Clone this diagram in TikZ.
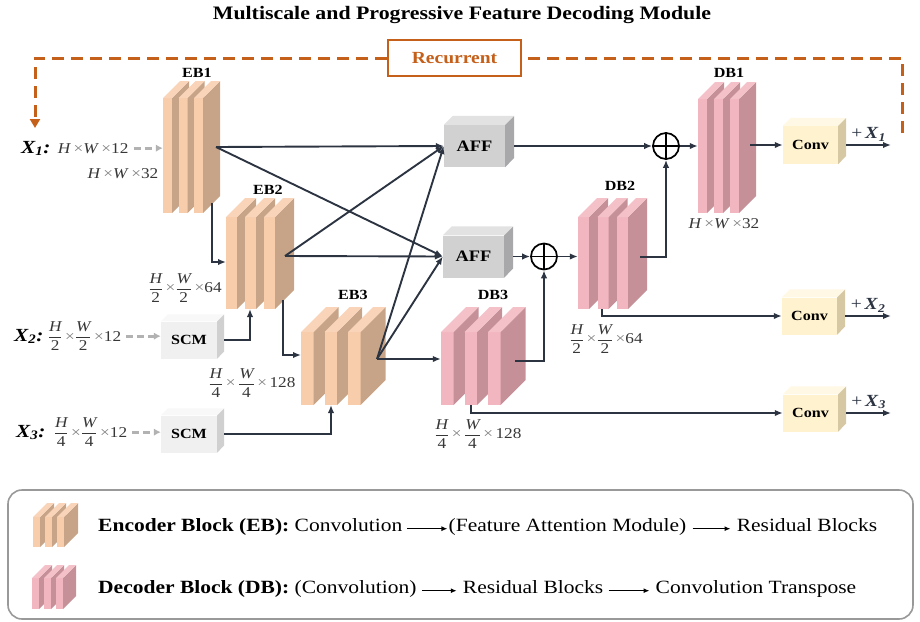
\documentclass[tikz,border=0pt]{standalone}
\usepackage{amsmath}
\usepackage{fontspec}
\setmainfont{Liberation Serif}[FakeStretch=1.15]
\usepackage{tikz}
\usetikzlibrary{arrows.meta,positioning,calc,fit}
\definecolor{ebfront}{RGB}{248,205,172}
\definecolor{ebside}{RGB}{199,164,135}
\definecolor{dbfront}{RGB}{242,182,192}
\definecolor{dbside}{RGB}{198,144,153}
\definecolor{afffront}{RGB}{210,209,210}
\definecolor{afftop}{RGB}{226,226,227}
\definecolor{affside}{RGB}{168,168,170}
\definecolor{scmfront}{RGB}{240,240,240}
\definecolor{scmtop}{RGB}{248,248,248}
\definecolor{scmside}{RGB}{208,208,208}
\definecolor{convfront}{RGB}{255,242,206}
\definecolor{convtop}{RGB}{255,248,228}
\definecolor{convside}{RGB}{214,200,163}
\definecolor{recorange}{RGB}{197,96,26}
\definecolor{linkgray}{RGB}{44,52,66}
\definecolor{feedgray}{RGB}{178,178,178}
\definecolor{dimgray}{RGB}{55,55,55}
\tikzset{
  link/.style={line width=1.9pt, linkgray, -{Latex[length=8pt,width=6.5pt]}},
  feed/.style={line width=2.8pt, feedgray, dash pattern=on 7pt off 4pt, -{Latex[length=7pt,width=7.5pt]}},
  recline/.style={line width=3pt, recorange, dash pattern=on 12pt off 7pt},
  recbox/.style={draw=recorange, line width=2.4pt, minimum width=133pt, minimum height=36pt, text=recorange, font=\bfseries\fontsize{17}{18}\selectfont},
  cubeface/.style={inner sep=0, font=\bfseries\fontsize{14}{15}\selectfont},
  blocklabel/.style={inner sep=0, font=\bfseries\fontsize{14}{15}\selectfont},
  dimlabel/.style={inner sep=0, text=dimgray, font=\fontsize{15}{17}\selectfont},
  inname/.style={inner sep=0, font=\bfseries\itshape\fontsize{18.5}{19}\selectfont},
  outlabel/.style={inner sep=0, font=\fontsize{17}{18}\selectfont},
  sumnode/.style={circle, draw=black, line width=1.7pt, minimum size=26pt, inner sep=0},
  titletext/.style={inner sep=0, font=\bfseries\fontsize{19}{21}\selectfont},
  legtext/.style={inner sep=0, font=\fontsize{18.7}{21}\selectfont},
  legframe/.style={draw=black!40, line width=1.6pt, rounded corners=14pt},
  legarrow/.style={line width=1.3pt, -{Latex[length=6pt,width=5pt]}}
}
% three stacked slabs: name, x0, front top, bottom, slab width, spacing, depth, front colour, side colour
\newcommand{\featblock}[9]{%
  \foreach \i in {0,1,2}{%
    \fill[#8] ({#2+\i*#6},#3) rectangle ({#2+\i*#6+#5},#4);
    \fill[#9] ({#2+\i*#6+#5},#3) -- ++(#7,-#7) -- ++(0,{#4-#3}) -- ({#2+\i*#6+#5},#4) -- cycle;
    \fill[#8!85!white] ({#2+\i*#6},#3) -- ++(#7,-#7) -- ++(#5,0) -- ({#2+\i*#6+#5},#3) -- cycle;
  }
  \node[fit={(#2,{#3-#7}) ({#2+2*#6+#5+#7},#4)}, inner sep=0] (#1) {};
}
% box with a front, top and side face: name, position, width, height, depth, front, top, side, text
\newcommand{\cubenode}[9]{%
  \node[cubeface, fill=#6, minimum width=#3pt, minimum height=#4pt] (#1) at #2 {#9};
  \fill[#7] (#1.north west) -- ++(#5,-#5) -- ++(#3,0) -- (#1.north east) -- cycle;
  \fill[#8] (#1.north east) -- ++(#5,-#5) -- ++(0,#4) -- (#1.south east) -- cycle;
  \coordinate (#1-out) at ([xshift=#5pt]#1.east);
}
\newcommand{\dimfrac}[2]{\ensuremath{\dfrac{\text{\itshape #1}}{\text{#2}}}}
\newcommand{\tms}{\textcolor{gray}{×}}

\begin{document}
\begin{tikzpicture}[x=1pt,y=-1pt]
  \useasboundingbox (0,0) rectangle (920,621);
  \node[titletext] (title) at (462,15) {Multiscale and Progressive Feature Decoding Module};

  % recurrent loop
  \node[recbox] (rec) at (454.5,58) {Recurrent};
  \coordinate (recfrom) at (902,133);
  \coordinate (recto) at (35,128);
  \draw[recline] (recfrom) |- (rec.east);
  \draw[recline,-{Triangle[length=9pt,width=10pt]}] (rec.west) -| (recto);

  % encoder side
  \featblock{eb1}{163}{98}{213}{9}{15.5}{17}{ebfront}{ebside}
  \featblock{eb2}{226}{217}{309}{11}{19}{19}{ebfront}{ebside}
  \featblock{eb3}{301}{332}{405}{12.5}{23.5}{25}{ebfront}{ebside}
  \node[blocklabel] (eb1lab) at (197,73) {EB1};
  \node[blocklabel] (eb2lab) at (268,190) {EB2};
  \node[blocklabel] (eb3lab) at (353,295) {EB3};
  \node[dimlabel] (eb1dim) at (123,174) {\textit{H}\,\tms\textit{W}\,\tms 32};
  \node[dimlabel] (eb2dim) at (185,288) {\dimfrac{H}{2}\,\tms\dimfrac{W}{2}\,\tms 64};
  \node[dimlabel] (eb3dim) at (252,383) {\dimfrac{H}{4}\,\tms\,\dimfrac{W}{4}\,\tms\,128};

  % decoder side
  \featblock{db3}{441}{332}{405}{12.5}{23.5}{25}{dbfront}{dbside}
  \featblock{db2}{578}{217}{309}{11}{19.5}{19}{dbfront}{dbside}
  \featblock{db1}{698}{99}{213}{9}{16}{17}{dbfront}{dbside}
  \node[blocklabel] (db3lab) at (493,295) {DB3};
  \node[blocklabel] (db2lab) at (620,186) {DB2};
  \node[blocklabel] (db1lab) at (729,73) {DB1};
  \node[dimlabel] (db1dim) at (724,224) {\textit{H}\,\tms\textit{W}\,\tms 32};
  \node[dimlabel] (db2dim) at (606,339) {\dimfrac{H}{2}\,\tms\dimfrac{W}{2}\,\tms 64};
  \node[dimlabel] (db3dim) at (478,434) {\dimfrac{H}{4}\,\tms\,\dimfrac{W}{4}\,\tms\,128};

  % fusion, shallow conv and output heads
  \cubenode{aff1}{(474.5,146)}{61}{42}{9}{afffront}{afftop}{affside}{\fontsize{16}{16}\selectfont AFF}
  \cubenode{aff2}{(473.5,256.5)}{61}{42}{9}{afffront}{afftop}{affside}{\fontsize{16}{16}\selectfont AFF}
  \cubenode{scm1}{(189,340)}{56}{37}{7}{scmfront}{scmtop}{scmside}{SCM}
  \cubenode{scm2}{(189,434)}{56}{37}{7}{scmfront}{scmtop}{scmside}{SCM}
  \cubenode{conv1}{(810.5,145)}{55}{38}{8}{convfront}{convtop}{convside}{Conv}
  \cubenode{conv2}{(809.5,316)}{55}{37}{8}{convfront}{convtop}{convside}{Conv}
  \cubenode{conv3}{(810.5,413)}{55}{37}{8}{convfront}{convtop}{convside}{Conv}

  \node[sumnode] (sum1) at (666,146) {};
  \draw[line width=1.7pt] (sum1.north) -- (sum1.south) (sum1.west) -- (sum1.east);
  \node[sumnode] (sum2) at (544,256.5) {};
  \draw[line width=1.7pt] (sum2.north) -- (sum2.south) (sum2.west) -- (sum2.east);

  % inputs
  \node[inname, anchor=base west] (x1name) at (21,153) {X\textsubscript{1}:};
  \node[dimlabel, base right=7pt of x1name] (x1dim) {\textit{H}\,\tms\textit{W}\,\tms 12};
  \node[inname, anchor=base west] (x2name) at (14,341) {X\textsubscript{2}:};
  \node[dimlabel, base right=4pt of x2name] (x2dim) {\dimfrac{H}{2}\,\tms\dimfrac{W}{2}\,\tms 12};
  \node[inname, anchor=base west] (x3name) at (16,437) {X\textsubscript{3}:};
  \node[dimlabel, base right=8pt of x3name] (x3dim) {\dimfrac{H}{4}\,\tms\dimfrac{W}{4}\,\tms 12};
  \draw[feed, shorten <=5pt] (x1dim.east) -- (x1dim.east -| eb1.west);
  \draw[feed, shorten <=5pt] (x2dim.east) -- (x2dim.east -| scm1.west);
  \draw[feed, shorten <=5pt] (x3dim.east) -- (x3dim.east -| scm2.west);

  % connection points on the blocks
  \coordinate (eb1out) at (216,147);
  \coordinate (eb1down) at (212,203);
  \coordinate (eb2in) at (226,262);
  \coordinate (eb2out) at (285,256);
  \coordinate (eb2down) at (283,300);
  \coordinate (eb2up) at (250,309);
  \coordinate (eb3in) at (301,355);
  \coordinate (eb3out) at (377,359);
  \coordinate (eb3up) at (331,405);
  \coordinate (db3out) at (515,361);
  \coordinate (db3down) at (471,405);
  \coordinate (db2out) at (640,257);
  \coordinate (db2down) at (602,309);
  \coordinate (db1out) at (750,145);
  \coordinate (yend) at (891,0);

  \draw[link] (eb1down) |- (eb2in);
  \draw[link] (eb2down) |- (eb3in);
  \draw[link] (scm1-out) -| (eb2up);
  \draw[link] (scm2-out) -| (eb3up);
  \draw[link] (eb1out) -- (aff1.west);
  \draw[link] (eb1out) -- (aff2.west);
  \draw[link] (eb2out) -- (aff1.west);
  \draw[link] (eb2out) -- (aff2.west);
  \draw[link] (eb3out) -- (aff1.west);
  \draw[link] (eb3out) -- (aff2.west);
  \draw[link] (eb3out) -- (eb3out -| db3.west);

  \draw[link] (aff1-out) -- (sum1.west);
  \draw[link] (sum1.east) -- (sum1.east -| db1.west);
  \draw[link] (aff2-out) -- (sum2.west);
  \draw[link] (sum2.east) -- (sum2.east -| db2.west);
  \draw[link] (db3out) -| (sum2.south);
  \draw[link] (db2out) -| (sum1.south);

  \draw[link] (db1out) -- (db1out -| conv1.west);
  \draw[link] (db2down) |- (conv2.west);
  \draw[link] (db3down) |- (conv3.west);
  \draw[link] (conv1-out) -- (conv1-out -| yend) node[outlabel, midway, above=3pt] (y1lab) {+\,\textbf{\textit{X}\textsubscript{\textit{1}}}};
  \draw[link] (conv2-out) -- (conv2-out -| yend) node[outlabel, midway, above=3pt] (y2lab) {+\,\textbf{\textit{X}\textsubscript{\textit{2}}}};
  \draw[link] (conv3-out) -- (conv3-out -| yend) node[outlabel, midway, above=3pt] (y3lab) {+\,\textbf{\textit{X}\textsubscript{\textit{3}}}};

  % legend
  \draw[legframe] (8,490) rectangle (913,619);
  \featblock{legeb}{33}{517}{547}{7}{12}{14}{ebfront}{ebside}
  \featblock{legdb}{32}{578}{609}{7}{12}{13}{dbfront}{dbside}
  \node[legtext, anchor=base west] (legenc) at (98,531) {\textbf{Encoder Block (EB):} Convolution};
  \node[legtext, base right=46pt of legenc] (legfam) {(Feature Attention Module)};
  \node[legtext, base right=50pt of legfam] (legres) {Residual Blocks};
  \draw[legarrow, shorten <=5pt, shorten >=1pt] (legenc.mid east) -- (legfam.mid west);
  \draw[legarrow, shorten <=6pt, shorten >=6pt] (legfam.mid east) -- (legres.mid west);
  \node[legtext, anchor=base west] (legdec) at (98,593) {\textbf{Decoder Block (DB):} (Convolution)};
  \node[legtext, base right=46pt of legdec] (legres2) {Residual Blocks};
  \node[legtext, base right=52pt of legres2] (legtr) {Convolution Transpose};
  \draw[legarrow, shorten <=5pt, shorten >=6pt] (legdec.mid east) -- (legres2.mid west);
  \draw[legarrow, shorten <=5pt, shorten >=6pt] (legres2.mid east) -- (legtr.mid west);
\end{tikzpicture}
\end{document}
